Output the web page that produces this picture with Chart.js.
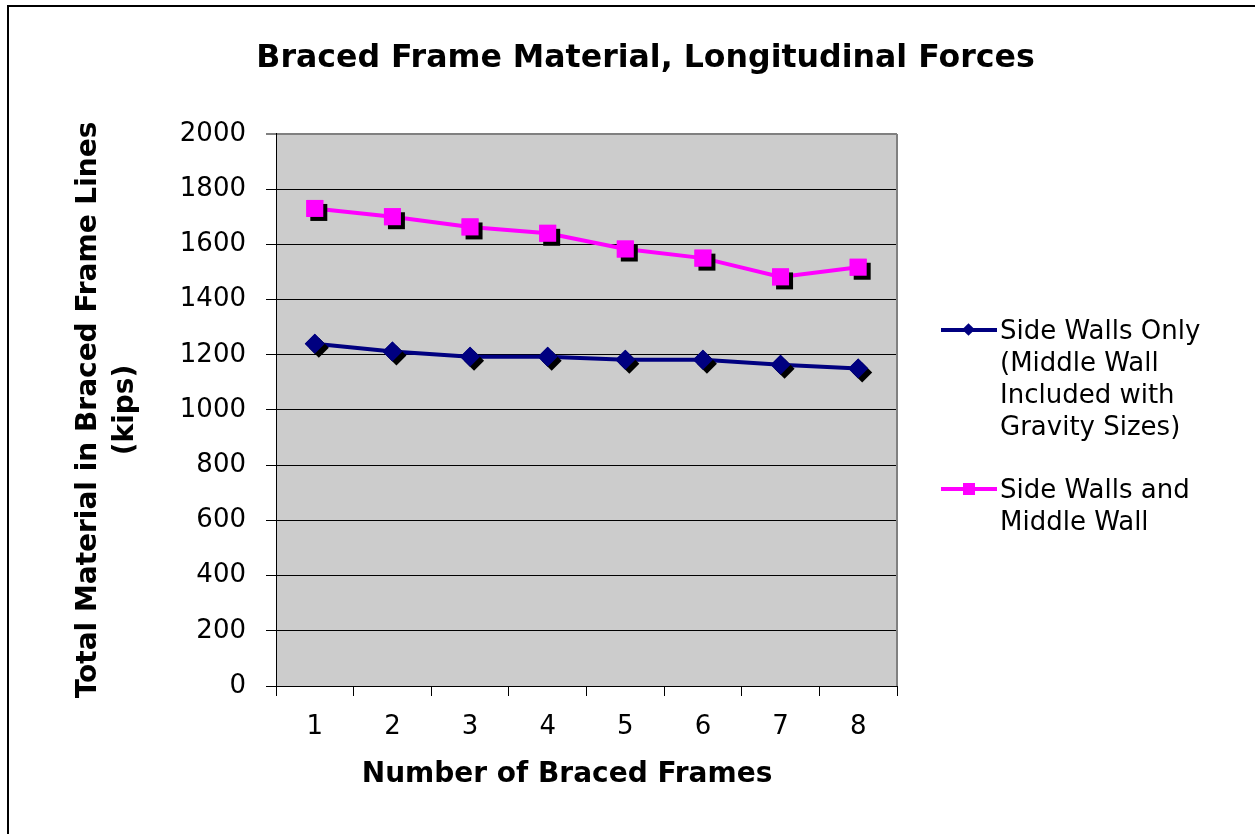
<!DOCTYPE html>
<html lang="en">
<head>
    <meta charset="UTF-8">
    <title>Braced Frame Material, Longitudinal Forces</title>
    <script src="https://cdn.jsdelivr.net/npm/chart.js"></script>
    <style>
        body {
            margin: 0;
            background: #fff;
            width: 1255px;
            height: 834px;
            overflow: hidden;
            position: relative;
            font-family: "DejaVu Sans", Verdana, sans-serif;
        }
        .frame {
            position: absolute;
            left: 7px;
            top: 5px;
            width: 1260px;
            height: 860px;
            border: 2px solid #000;
            box-sizing: border-box;
        }
        .chart-box {
            position: absolute;
            left: 0;
            top: 0;
            width: 1255px;
            height: 834px;
        }
        .legend {
            position: absolute;
            left: 941px;
            top: 314px;
            font-size: 26px;
            line-height: 32px;
            color: #000;
        }
        .legend-item {
            position: relative;
            padding-left: 59px;
            margin-bottom: 31px;
        }
        .legend-line {
            position: absolute;
            left: 0;
            top: 14px;
            width: 56px;
            height: 4px;
        }
        .legend-mark {
            position: absolute;
            top: 10px;
        }
    </style>
</head>
<body>
    <div class="frame"></div>
    <div class="chart-box">
        <canvas id="frameChart" width="1255" height="834"></canvas>
    </div>
    <div class="legend" id="legend"></div>

    <script>
        // Number of braced frames (x categories)
        const frames = ['1', '2', '3', '4', '5', '6', '7', '8'];

        // Total material in braced frame lines (kips)
        const sideWallsOnly = [1240, 1212, 1193, 1193, 1182, 1182, 1164, 1150];
        const sideAndMiddle = [1730, 1700, 1663, 1640, 1583, 1550, 1482, 1517];

        const seriesNames = [
            ['Side Walls Only', '(Middle Wall', 'Included with', 'Gravity Sizes)'],
            ['Side Walls and', 'Middle Wall']
        ];

        const yTicks = [0, 200, 400, 600, 800, 1000, 1200, 1400, 1600, 1800, 2000];

        const NAVY = '#000080';
        const MAGENTA = '#ff00ff';

        // gray plot area plus the gray right edge
        const plotBackground = {
            id: 'plotBackground',
            beforeDraw(chart) {
                const { ctx, chartArea: a } = chart;
                ctx.save();
                ctx.fillStyle = '#cccccc';
                ctx.fillRect(a.left, a.top, a.right - a.left, a.bottom - a.top);
                ctx.restore();
            },
            afterDatasetsDraw(chart) {
                const { ctx, chartArea: a } = chart;
                ctx.save();
                ctx.strokeStyle = '#808080';
                ctx.lineWidth = 2;
                ctx.beginPath();
                ctx.moveTo(a.right, a.top);
                ctx.lineTo(a.right, a.bottom);
                ctx.stroke();
                ctx.restore();
            }
        };

        // black drop shadow under each marker
        const markerShadow = {
            id: 'markerShadow',
            afterDatasetDraw(chart, args) {
                const ctx = chart.ctx;
                const meta = args.meta;
                ctx.save();
                ctx.fillStyle = '#000';
                ctx.strokeStyle = '#000';
                meta.data.forEach(pt => {
                    const o = pt.options;
                    Chart.helpers.drawPoint(ctx, {
                        pointStyle: o.pointStyle,
                        radius: o.radius,
                        rotation: o.rotation,
                        borderWidth: 0
                    }, pt.x + 4, pt.y + 4);
                });
                ctx.restore();
                meta.data.forEach(pt => pt.draw(ctx, chart.chartArea));
            }
        };

        const ctx = document.getElementById('frameChart').getContext('2d');
        Chart.defaults.font.family = '"DejaVu Sans", Verdana, sans-serif';
        Chart.defaults.color = '#000';

        const frameChart = new Chart(ctx, {
            type: 'line',
            data: {
                labels: frames,
                datasets: [{
                    label: seriesNames[0].join(' '),
                    data: sideWallsOnly,
                    borderColor: NAVY,
                    backgroundColor: NAVY,
                    borderWidth: 4,
                    pointStyle: 'rectRot',
                    pointRadius: 10,
                    pointBorderWidth: 0,
                    tension: 0
                }, {
                    label: seriesNames[1].join(' '),
                    data: sideAndMiddle,
                    borderColor: MAGENTA,
                    backgroundColor: MAGENTA,
                    borderWidth: 4,
                    pointStyle: 'rect',
                    pointRadius: 12,
                    pointBorderWidth: 0,
                    tension: 0
                }]
            },
            options: {
                responsive: false,
                animation: false,
                layout: { padding: { left: 36, right: 0, top: 0, bottom: 0 } },
                plugins: {
                    legend: { display: false },
                    tooltip: { enabled: false },
                    title: {
                        display: true,
                        text: 'Braced Frame Material, Longitudinal Forces',
                        font: { size: 31.6, weight: 'bold', lineHeight: 1.2 },
                        color: '#000',
                        padding: { top: 40, bottom: 56 }
                    }
                },
                scales: {
                    x: {
                        offset: true,
                        grid: {
                            offset: true,
                            drawOnChartArea: false,
                            tickLength: 10,
                            color: '#000'
                        },
                        border: { color: '#000', width: 1 },
                        ticks: { font: { size: 26 }, padding: 16, color: '#000' },
                        title: {
                            display: true,
                            text: 'Number of Braced Frames\u00a0\u00a0\u00a0\u00a0',
                            font: { size: 28, weight: 'bold', lineHeight: 1.2 },
                            color: '#000',
                            padding: { top: 0, bottom: 42 }
                        },
                        afterFit: s => { s.height = 148; }
                    },
                    y: {
                        min: 0,
                        max: 2000,
                        afterBuildTicks: s => { s.ticks = yTicks.map(v => ({ value: v })); },
                        grid: {
                            tickLength: 10,
                            color: c => (c.tick && c.tick.value === 2000) ? '#808080' : '#000',
                            lineWidth: c => (c.tick && c.tick.value === 2000) ? 2 : 1
                        },
                        border: { color: '#000', width: 1 },
                        ticks: {
                            font: { size: 26 },
                            padding: 20,
                            color: '#000',
                            callback: v => String(v)
                        },
                        title: {
                            display: true,
                            text: ['Total Material in Braced Frame Lines', '(kips)'],
                            font: { size: 28, weight: 'bold', lineHeight: 1.3 },
                            color: '#000',
                            padding: { top: 35, bottom: 0 }
                        },
                        afterFit: s => { s.width = 240; }
                    },
                    // empty right-hand box that reserves room for the legend
                    spacer: {
                        position: 'right',
                        display: true,
                        grid: { display: false, drawTicks: false },
                        border: { display: false },
                        ticks: { display: false },
                        afterFit: s => { s.width = 358; }
                    }
                }
            },
            plugins: [plotBackground, markerShadow]
        });

        // HTML legend with multi-line labels
        const legendEl = document.getElementById('legend');
        frameChart.data.datasets.forEach((ds, i) => {
            const item = document.createElement('div');
            item.className = 'legend-item';
            const line = document.createElement('span');
            line.className = 'legend-line';
            line.style.background = ds.borderColor;
            const mark = document.createElement('span');
            mark.className = 'legend-mark';
            mark.style.background = ds.backgroundColor;
            if (ds.pointStyle === 'rectRot') {
                mark.style.width = '9px';
                mark.style.height = '9px';
                mark.style.left = '23px';
                mark.style.top = '11px';
                mark.style.transform = 'rotate(45deg)';
            } else {
                mark.style.width = '12px';
                mark.style.height = '12px';
                mark.style.left = '22px';
            }
            item.appendChild(line);
            item.appendChild(mark);
            seriesNames[i].forEach(t => {
                const row = document.createElement('div');
                row.textContent = t;
                item.appendChild(row);
            });
            legendEl.appendChild(item);
        });
    </script>
</body>
</html>
